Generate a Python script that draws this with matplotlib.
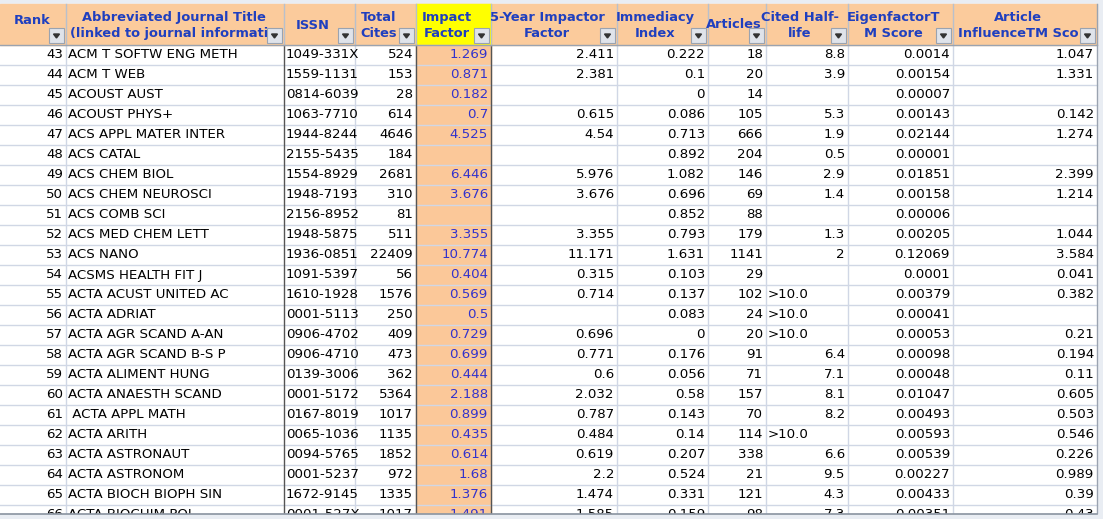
import matplotlib
matplotlib.use("Agg")
import matplotlib.pyplot as plt
from matplotlib.patches import Rectangle, Polygon

headers = ["Rank", "Abbreviated Journal Title\n(linked to journal informatio", "ISSN", "Total\nCites",
           "Impact\nFactor", "5-Year Impactor\nFactor", "Immediacy\nIndex", "Articles",
           "Cited Half-\nlife", "EigenfactorT\nM Score", "Article\nInfluenceTM Sco"]
col_widths = [66, 218, 71, 61, 75, 126, 91, 58, 82, 105, 144]
ranks = list(range(43, 67))
titles = ["ACM T SOFTW ENG METH", "ACM T WEB", "ACOUST AUST", "ACOUST PHYS+", "ACS APPL MATER INTER",
          "ACS CATAL", "ACS CHEM BIOL", "ACS CHEM NEUROSCI", "ACS COMB SCI", "ACS MED CHEM LETT",
          "ACS NANO", "ACSMS HEALTH FIT J", "ACTA ACUST UNITED AC", "ACTA ADRIAT", "ACTA AGR SCAND A-AN",
          "ACTA AGR SCAND B-S P", "ACTA ALIMENT HUNG", "ACTA ANAESTH SCAND", " ACTA APPL MATH",
          "ACTA ARITH", "ACTA ASTRONAUT", "ACTA ASTRONOM", "ACTA BIOCH BIOPH SIN", "ACTA BIOCHIM POL"]
issn = ["1049-331X", "1559-1131", "0814-6039", "1063-7710", "1944-8244", "2155-5435", "1554-8929",
        "1948-7193", "2156-8952", "1948-5875", "1936-0851", "1091-5397", "1610-1928", "0001-5113",
        "0906-4702", "0906-4710", "0139-3006", "0001-5172", "0167-8019", "0065-1036", "0094-5765",
        "0001-5237", "1672-9145", "0001-527X"]
total_cites = ["524", "153", "28", "614", "4646", "184", "2681", "310", "81", "511", "22409", "56",
               "1576", "250", "409", "473", "362", "5364", "1017", "1135", "1852", "972", "1335", "1017"]
impact = ["1.269", "0.871", "0.182", "0.7", "4.525", "", "6.446", "3.676", "", "3.355", "10.774",
          "0.404", "0.569", "0.5", "0.729", "0.699", "0.444", "2.188", "0.899", "0.435", "0.614",
          "1.68", "1.376", "1.491"]
five_year = ["2.411", "2.381", "", "0.615", "4.54", "", "5.976", "3.676", "", "3.355", "11.171",
             "0.315", "0.714", "", "0.696", "0.771", "0.6", "2.032", "0.787", "0.484", "0.619",
             "2.2", "1.474", "1.585"]
immediacy = ["0.222", "0.1", "0", "0.086", "0.713", "0.892", "1.082", "0.696", "0.852", "0.793",
             "1.631", "0.103", "0.137", "0.083", "0", "0.176", "0.056", "0.58", "0.143", "0.14",
             "0.207", "0.524", "0.331", "0.159"]
articles = ["18", "20", "14", "105", "666", "204", "146", "69", "88", "179", "1141", "29", "102",
            "24", "20", "91", "71", "157", "70", "114", "338", "21", "121", "98"]
half_life = ["8.8", "3.9", "", "5.3", "1.9", "0.5", "2.9", "1.4", "", "1.3", "2", "", ">10.0",
             ">10.0", ">10.0", "6.4", "7.1", "8.1", "8.2", ">10.0", "6.6", "9.5", "4.3", "7.3"]
eigen = ["0.0014", "0.00154", "0.00007", "0.00143", "0.02144", "0.00001", "0.01851", "0.00158",
         "0.00006", "0.00205", "0.12069", "0.0001", "0.00379", "0.00041", "0.00053", "0.00098",
         "0.00048", "0.01047", "0.00493", "0.00593", "0.00539", "0.00227", "0.00433", "0.00351"]
influence = ["1.047", "1.331", "", "0.142", "1.274", "", "2.399", "1.214", "", "1.044", "3.584",
             "0.041", "0.382", "", "0.21", "0.194", "0.11", "0.605", "0.503", "0.546", "0.226",
             "0.989", "0.39", "0.43"]

W, H = 1103, 519
fig = plt.figure(figsize=(W / 100, H / 100), dpi=100)
ax = fig.add_axes([0, 0, 1, 1])
ax.set_xlim(0, W); ax.set_ylim(H, 0); ax.axis("off")

top, head_h, row_h, bottom = 4, 41, 20, 514
xs = [0]
for w in col_widths:
    xs.append(xs[-1] + w)
right = xs[-1]

ax.add_patch(Rectangle((0, 0), W, H, color="#e9edf3", zorder=0))
ax.add_patch(Rectangle((0, top), right, bottom - top, color="white", zorder=0))
ax.add_patch(Rectangle((0, top), right, head_h, color="#fbcb9c", zorder=1))
ax.add_patch(Rectangle((xs[4], top), col_widths[4], head_h, color="#ffff00", zorder=1))
ax.add_patch(Rectangle((xs[4], top + head_h), col_widths[4], bottom - top - head_h, color="#fbc899", zorder=1))

hc = "#1f3fbf"
for i, h in enumerate(headers):
    cx = (xs[i] + xs[i + 1] - 14) / 2
    clip = Rectangle((xs[i], top), col_widths[i] - 18, head_h, transform=ax.transData)
    if i == 1:
        t = ax.text(xs[i] + 4, top + head_h / 2 + 1, h, ha="left", va="center", multialignment="center",
                    fontsize=9.4, fontweight="bold", color=hc, linespacing=1.3, zorder=3)
    elif i == 0:
        t = ax.text(xs[i] + 32, top + 16, h, ha="center", va="center",
                    fontsize=9.4, fontweight="bold", color=hc, zorder=3)
    elif i == 7:
        t = ax.text(cx + 4, top + 20, h, ha="center", va="center",
                    fontsize=9.4, fontweight="bold", color=hc, zorder=3)
    else:
        t = ax.text(cx, top + head_h / 2 + 1, h, ha="center", va="center",
                    fontsize=9.4, fontweight="bold", color=hc, linespacing=1.3, zorder=3)
    t.set_clip_path(clip)
    bx, by = xs[i + 1] - 17, top + head_h - 17
    ax.add_patch(Rectangle((bx, by), 15, 15, facecolor="#dfe3ea", edgecolor="#9aa3b0", lw=0.8, zorder=4))
    ax.add_patch(Polygon([(bx + 4.5, by + 6), (bx + 10.5, by + 6), (bx + 7.5, by + 10)], color="#333333", zorder=5))

grid = "#d0d7e5"
cols = [ranks, titles, issn, total_cites, impact, five_year, immediacy, articles, half_life, eigen, influence]
left_cols = {1, 2}
for r in range(len(ranks)):
    y0 = top + head_h + r * row_h
    yc = y0 + row_h / 2
    for c, data in enumerate(cols):
        val = str(data[r])
        if val == "":
            continue
        color = "#3333cc" if c == 4 else "black"
        if c in left_cols or (c == 8 and val.startswith(">")):
            x, ha = xs[c] + 2, "left"
        else:
            x, ha = xs[c + 1] - 3, "right"
        t = ax.text(x, yc, val, ha=ha, va="center", fontsize=9.6, color=color, zorder=3)
        t.set_clip_path(Rectangle((xs[c], y0), col_widths[c] - 1, row_h, transform=ax.transData))
    ax.plot([0, right], [y0 + row_h, y0 + row_h], color=grid, lw=1, zorder=2)

for i, x in enumerate(xs[1:-1], start=1):
    dark = i in (2, 4, 5)
    ax.plot([x, x], [top + head_h, bottom], color="#555555" if dark else grid, lw=1, zorder=2)
    ax.plot([x, x], [top, top + head_h], color="#b8c0cc", lw=1, zorder=2)
ax.plot([0, right], [top + head_h, top + head_h], color="#9aa3b0", lw=1, zorder=2)
ax.plot([right, right], [top, bottom], color="#9aa3b0", lw=1, zorder=6)
ax.add_patch(Rectangle((0, bottom), W, H - bottom, color="#e9edf3", zorder=6))
ax.plot([0, right], [bottom, bottom], color="#8a93a0", lw=1.2, zorder=7)

fig.savefig("out.png", dpi=100)
